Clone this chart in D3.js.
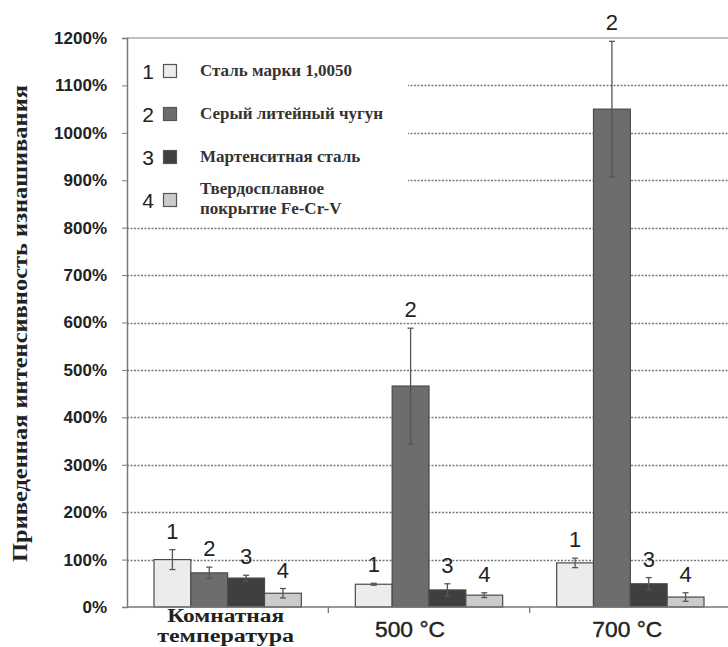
<!DOCTYPE html>
<html>
<head>
<meta charset="utf-8">
<script src="https://cdn.jsdelivr.net/npm/d3@7"></script>
<style>
  body { margin: 0; background: #fff; }
  svg { display: block; }
</style>
</head>
<body>
<svg id="chart" width="728" height="647"></svg>
<script>
// Data
const groups = ["room", "500", "700"];
const series = ["1", "2", "3", "4"];
const seriesNames = ["Сталь марки 1,0050", "Серый литейный чугун", "Мартенситная сталь", "Твердосплавное покрытие Fe-Cr-V"];
const valuesRoom = [100, 72, 61, 29];
const values500 = [48, 466, 36, 25];
const values700 = [93, 1050, 49, 21];
const errRoom = [21, 12, 6, 10];
const err500 = [2, 122, 13, 5];
const err700 = [10, 143, 13, 9];
const yTicks = [0, 100, 200, 300, 400, 500, 600, 700, 800, 900, 1000, 1100, 1200];

const fills = ["#ececec", "#6d6d6d", "#3f3f3f", "#cbcbcb"];

const svg = d3.select("#chart");
const plotL = 127, plotR = 731, plotT = 38, plotB = 607;

const x0 = d3.scaleBand().domain(groups).range([plotL, plotR]);
const x1 = d3.scaleBand().domain(series).range([27, x0.bandwidth() - 27]);
const y = d3.scaleLinear().domain([0, 1200]).range([plotB, plotT]);

const rows = [
  { g: "room", v: valuesRoom, e: errRoom },
  { g: "500", v: values500, e: err500 },
  { g: "700", v: values700, e: err700 }
];

// grid lines (dotted)
svg.append("g")
  .selectAll("line")
  .data(yTicks.filter(d => d > 0 && d < 1200))
  .join("line")
  .attr("x1", plotL).attr("x2", plotR)
  .attr("y1", d => Math.round(y(d)) + 0.5).attr("y2", d => Math.round(y(d)) + 0.5)
  .attr("stroke", "#777").attr("stroke-width", 1.3)
  .attr("stroke-dasharray", "2,1.5");

// top border
svg.append("line")
  .attr("x1", plotL).attr("x2", plotR)
  .attr("y1", y(1200)).attr("y2", y(1200))
  .attr("stroke", "#aaa").attr("stroke-width", 1.5);

// legend box (covers grid lines)
svg.append("rect")
  .attr("x", plotL + 1).attr("y", y(1200) + 1)
  .attr("width", 280).attr("height", 186)
  .attr("fill", "#fff");

// bars
const bars = svg.append("g");
rows.forEach(r => {
  const g = bars.append("g").attr("transform", `translate(${x0(r.g)},0)`);
  g.selectAll("rect")
    .data(r.v)
    .join("rect")
    .attr("x", (d, i) => x1(series[i]))
    .attr("y", d => y(d))
    .attr("width", x1.bandwidth())
    .attr("height", d => y(0) - y(d))
    .attr("fill", (d, i) => fills[i])
    .attr("stroke", "#4a4a4a").attr("stroke-width", 1.2);

  // error bars
  const eg = g.selectAll("g.err")
    .data(r.v.map((d, i) => ({ v: d, e: r.e[i], s: series[i] })))
    .join("g").attr("class", "err")
    .attr("transform", d => `translate(${x1(d.s) + x1.bandwidth() / 2},0)`);
  eg.append("line")
    .attr("y1", d => y(d.v + d.e)).attr("y2", d => y(d.v - d.e))
    .attr("stroke", "#555").attr("stroke-width", 1.3);
  eg.append("line")
    .attr("x1", -3).attr("x2", 3)
    .attr("y1", d => y(d.v + d.e)).attr("y2", d => y(d.v + d.e))
    .attr("stroke", "#555").attr("stroke-width", 1.3);
  eg.append("line")
    .attr("x1", -3).attr("x2", 3)
    .attr("y1", d => y(d.v - d.e)).attr("y2", d => y(d.v - d.e))
    .attr("stroke", "#555").attr("stroke-width", 1.3);

  // number labels
  eg.append("text")
    .attr("text-anchor", "middle")
    .attr("y", d => y(d.v + d.e) - 11)
    .attr("font-family", "Liberation Sans, Arial, sans-serif")
    .attr("font-size", 22)
    .attr("fill", "#222")
    .text(d => d.s);
});

// y axis
const yAxis = svg.append("g")
  .attr("transform", `translate(${plotL},0)`)
  .call(d3.axisLeft(y).tickValues(yTicks).tickSize(5).tickFormat(d => d + "%"));
yAxis.select(".domain").attr("stroke", "#777").attr("stroke-width", 1.5);
yAxis.selectAll(".tick line").attr("stroke", "#777");
yAxis.selectAll("text")
  .attr("x", -20)
  .attr("font-family", "Liberation Sans, Arial, sans-serif")
  .attr("font-size", 17).attr("font-weight", "bold")
  .attr("fill", "#222");

// x axis
svg.append("line")
  .attr("x1", plotL).attr("x2", plotR)
  .attr("y1", y(0)).attr("y2", y(0))
  .attr("stroke", "#777").attr("stroke-width", 1.5);
svg.append("g")
  .selectAll("line")
  .data(groups.slice(1))
  .join("line")
  .attr("x1", d => x0(d)).attr("x2", d => x0(d))
  .attr("y1", y(0)).attr("y2", y(0) + 6)
  .attr("stroke", "#777").attr("stroke-width", 1.3);

// x labels
const cx = g => x0(g) + x0.bandwidth() / 2;
svg.append("text")
  .attr("x", cx("room") - 2).attr("y", 622)
  .attr("text-anchor", "middle")
  .attr("font-family", "Liberation Serif, serif")
  .attr("font-size", 18).attr("font-weight", "bold")
  .attr("textLength", 117).attr("lengthAdjust", "spacingAndGlyphs")
  .attr("fill", "#222")
  .text("Комнатная");
svg.append("text")
  .attr("x", cx("room") - 2).attr("y", 642)
  .attr("text-anchor", "middle")
  .attr("font-family", "Liberation Serif, serif")
  .attr("font-size", 18).attr("font-weight", "bold")
  .attr("textLength", 137).attr("lengthAdjust", "spacingAndGlyphs")
  .attr("fill", "#222")
  .text("температура");

const tempShift = { "500": -19, "700": -3 };
["500", "700"].forEach(g => {
  svg.append("text")
    .attr("x", cx(g) + tempShift[g]).attr("y", 637)
    .attr("text-anchor", "middle")
    .attr("font-family", "Liberation Sans, Arial, sans-serif")
    .attr("font-size", 22)
    .attr("textLength", 70).attr("lengthAdjust", "spacingAndGlyphs")
    .attr("fill", "#222")
    .attr("stroke", "#222").attr("stroke-width", 0.4)
    .text(g + " °C");
});

// y axis title
svg.append("text")
  .attr("transform", `translate(27,${(85 + 562) / 2}) rotate(-90)`)
  .attr("text-anchor", "middle")
  .attr("font-family", "Liberation Serif, serif")
  .attr("font-size", 21).attr("font-weight", "bold")
  .attr("textLength", 477).attr("lengthAdjust", "spacingAndGlyphs")
  .attr("fill", "#222")
  .text("Приведенная интенсивность изнашивания");

// legend
const legendY = [71, 114, 157, 200];
const leg = svg.append("g");
series.forEach((s, i) => {
  leg.append("text")
    .attr("x", 148).attr("y", legendY[i] + 8)
    .attr("text-anchor", "middle")
    .attr("font-family", "Liberation Sans, Arial, sans-serif")
    .attr("font-size", 21).attr("fill", "#222")
    .text(s);
  leg.append("rect")
    .attr("x", 163.5).attr("y", legendY[i] - 6.5)
    .attr("width", 13).attr("height", 13)
    .attr("fill", fills[i]).attr("stroke", "#555").attr("stroke-width", 1.2);
});
const lt = leg.selectAll("text.name")
  .data(seriesNames)
  .join("text")
  .attr("class", "name")
  .attr("font-family", "Liberation Serif, serif")
  .attr("font-size", 17).attr("font-weight", "bold")
  .attr("fill", "#333");
lt.each(function (d, i) {
  const t = d3.select(this);
  if (i === 3) {
    t.append("tspan").attr("x", 200).attr("y", legendY[i] - 6).text("Твердосплавное");
    t.append("tspan").attr("x", 200).attr("y", legendY[i] + 14).text("покрытие Fe-Cr-V");
  } else {
    t.append("tspan").attr("x", 200).attr("y", legendY[i] + 5).text(d);
  }
});
</script>
</body>
</html>
